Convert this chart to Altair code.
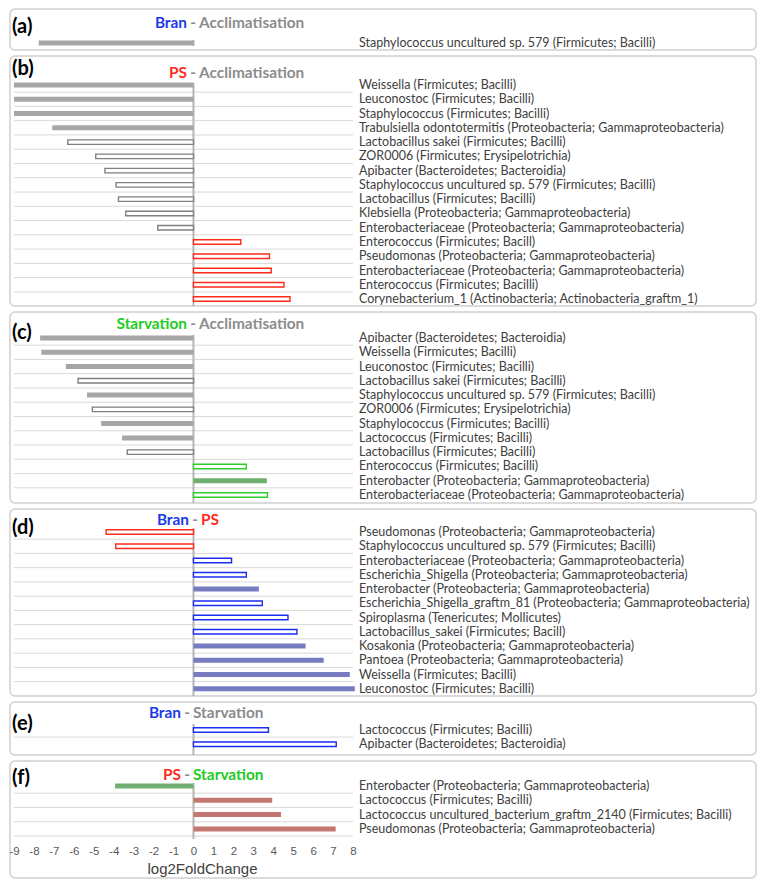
import altair as alt
import pandas as pd

# ---------------- data ----------------
X_TICKS = list(range(-9, 9))

a_labels = ["Staphylococcus uncultured sp. 579 (Firmicutes; Bacilli)"]
a_values = [-7.76]
a_filled = [True]

b_labels = [
    "Weissella (Firmicutes; Bacilli)",
    "Leuconostoc (Firmicutes; Bacilli)",
    "Staphylococcus (Firmicutes; Bacilli)",
    "Trabulsiella odontotermitis (Proteobacteria; Gammaproteobacteria)",
    "Lactobacillus sakei (Firmicutes; Bacilli)",
    "ZOR0006 (Firmicutes; Erysipelotrichia)",
    "Apibacter (Bacteroidetes; Bacteroidia)",
    "Staphylococcus uncultured sp. 579 (Firmicutes; Bacilli)",
    "Lactobacillus (Firmicutes; Bacilli)",
    "Klebsiella (Proteobacteria; Gammaproteobacteria)",
    "Enterobacteriaceae (Proteobacteria; Gammaproteobacteria)",
    "Enterococcus (Firmicutes; Bacill)",
    "Pseudomonas (Proteobacteria; Gammaproteobacteria)",
    "Enterobacteriaceae (Proteobacteria; Gammaproteobacteria)",
    "Enterococcus (Firmicutes; Bacilli)",
    "Corynebacterium_1 (Actinobacteria; Actinobacteria_graftm_1)",
]
b_values = [-9.0, -9.0, -9.0, -7.08, -6.3, -4.9, -4.44, -3.88, -3.76, -3.4, -1.79,
            2.37, 3.81, 3.9, 4.54, 4.84]
b_filled = [True, True, True, True, False, False, False, False, False, False, False,
            False, False, False, False, False]

c_labels = [
    "Apibacter (Bacteroidetes; Bacteroidia)",
    "Weissella (Firmicutes; Bacilli)",
    "Leuconostoc (Firmicutes; Bacilli)",
    "Lactobacillus sakei (Firmicutes; Bacilli)",
    "Staphylococcus uncultured sp. 579 (Firmicutes; Bacilli)",
    "ZOR0006 (Firmicutes; Erysipelotrichia)",
    "Staphylococcus (Firmicutes; Bacilli)",
    "Lactococcus (Firmicutes; Bacilli)",
    "Lactobacillus (Firmicutes; Bacilli)",
    "Enterococcus (Firmicutes; Bacilli)",
    "Enterobacter (Proteobacteria; Gammaproteobacteria)",
    "Enterobacteriaceae (Proteobacteria; Gammaproteobacteria)",
]
c_values = [-7.69, -7.63, -6.4, -5.79, -5.34, -5.07, -4.63, -3.58, -3.32, 2.65, 3.68, 3.71]
c_filled = [True, True, True, False, True, False, True, True, False, False, True, False]

d_labels = [
    "Pseudomonas (Proteobacteria; Gammaproteobacteria)",
    "Staphylococcus uncultured sp. 579 (Firmicutes; Bacilli)",
    "Enterobacteriaceae (Proteobacteria; Gammaproteobacteria)",
    "Escherichia_Shigella (Proteobacteria; Gammaproteobacteria)",
    "Enterobacter (Proteobacteria; Gammaproteobacteria)",
    "Escherichia_Shigella_graftm_81 (Proteobacteria; Gammaproteobacteria)",
    "Spiroplasma (Tenericutes; Mollicutes)",
    "Lactobacillus_sakei (Firmicutes; Bacill)",
    "Kosakonia (Proteobacteria; Gammaproteobacteria)",
    "Pantoea (Proteobacteria; Gammaproteobacteria)",
    "Weissella (Firmicutes; Bacilli)",
    "Leuconostoc (Firmicutes; Bacilli)",
]
d_values = [-4.38, -3.9, 1.91, 2.65, 3.28, 3.45, 4.74, 5.19, 5.62, 6.53, 7.84, 8.09]
d_filled = [False, False, False, False, True, False, False, False, True, True, True, True]

e_labels = [
    "Lactococcus (Firmicutes; Bacilli)",
    "Apibacter (Bacteroidetes; Bacteroidia)",
]
e_values = [3.76, 7.16]
e_filled = [False, False]

f_labels = [
    "Enterobacter (Proteobacteria; Gammaproteobacteria)",
    "Lactococcus (Firmicutes; Bacilli)",
    "Lactococcus  uncultured_bacterium_graftm_2140 (Firmicutes; Bacilli)",
    "Pseudomonas (Proteobacteria; Gammaproteobacteria)",
]
f_values = [-3.93, 3.95, 4.39, 7.13]
f_filled = [True, True, True, True]

# panel titles: (left word, right word)
titles = {
    "(a)": ("Bran", "Acclimatisation"),
    "(b)": ("PS", "Acclimatisation"),
    "(c)": ("Starvation", "Acclimatisation"),
    "(d)": ("Bran", "PS"),
    "(e)": ("Bran", "Starvation"),
    "(f)": ("PS", "Starvation"),
}

# ---------------- styling ----------------
BLUE_T = "#1b3be6"
RED_T = "#ff2a1a"
GREEN_T = "#22cc22"
GRAY_T = "#8c8c8c"

GRAY_FILL = "#a6a6a6"
GRAY_OPEN = "#7f7f7f"
RED_OPEN = "#ff2a1a"
GREEN_OPEN = "#2bcc2b"
BLUE_OPEN = "#1a2ef0"
GREEN_FILL = "#6fae6f"
BLUE_FILL = "#767bc2"
RED_FILL = "#c27870"

LABEL_FONT = "Lato"
W = 746
PX_PER_UNIT = 339 / 17
X_LEFT_PX = 4
x_min = X_TICKS[0] - X_LEFT_PX / PX_PER_UNIT
x_max = x_min + W / PX_PER_UNIT
xscale = alt.Scale(domain=[x_min, x_max], nice=False, zero=False, padding=0)
LABEL_X = 349


def panel(letter, title_colors, dash_x, labels, values, filled, colors, H, row0, step,
          title_y, letter_y, zero_px, show_axis=False):
    n = len(labels)
    d0 = -row0 / step
    d1 = d0 + H / step
    yscale = alt.Scale(domain=[d0, d1], reverse=True, nice=False, zero=False, padding=0)

    if show_axis:
        axis_y = 90
        xaxis = alt.Axis(
            values=X_TICKS,
            labelExpr="datum.value < 0 ? '-' + abs(datum.value) : '' + datum.value",
            ticks=False, tickSize=0, domain=False, grid=False,
            offset=axis_y - H, labelPadding=0, labelBaseline="middle",
            labelFlush=False, labelOverlap=False,
            labelFont="Liberation Sans", labelFontSize=11.5, labelColor="#595959",
            title="log2FoldChange", titleFont="Liberation Sans", titleFontSize=15,
            titleFontWeight="normal", titleColor="#404040",
            titleX=192, titleY=17, titleBaseline="middle", titleAlign="center",
        )
    else:
        xaxis = None

    df = pd.DataFrame({"row": list(range(n)), "label": labels, "value": values,
                       "filled": filled})
    key_color = dict(zip(["neg_f", "neg_o", "pos_f", "pos_o"], colors))
    df["col"] = [key_color[("neg" if v < 0 else "pos") + ("_f" if f else "_o")]
                 for v, f in zip(values, filled)]

    y = alt.Y("row:Q", scale=yscale, axis=None)
    xenc = alt.X("value:Q", scale=xscale, axis=xaxis)
    base = alt.Chart(df)

    bounds = [i + 0.5 for i in range(n - 1)]
    if show_axis:
        bounds.append(n - 0.5)
    grid = alt.Chart(pd.DataFrame({"b": bounds})).mark_rule(
        color="#d9d9d9", strokeWidth=1
    ).encode(
        x=alt.X(datum=X_TICKS[0], scale=xscale, axis=xaxis),
        x2=alt.X2(datum=X_TICKS[-1]),
        y=alt.Y("b:Q", scale=yscale, axis=None),
    )

    zero = alt.Chart(pd.DataFrame({"y0": [d0 + zero_px[0] / step],
                                   "y1": [d0 + zero_px[1] / step]})).mark_rule(
        color="#b5b5b5", strokeWidth=2
    ).encode(
        x=alt.X(datum=0, scale=xscale, axis=xaxis),
        y=alt.Y("y0:Q", scale=yscale, axis=None),
        y2="y1:Q",
    )

    filled_bars = base.transform_filter("datum.filled").mark_bar(
        orient="horizontal", size=5
    ).encode(
        x=xenc, x2=alt.X2(datum=0), y=y,
        fill=alt.Fill("col:N", scale=None),
    )
    open_bars = base.transform_filter("!datum.filled").mark_bar(
        orient="horizontal", size=4.5, fill="white", strokeWidth=1.4
    ).encode(
        x=xenc, x2=alt.X2(datum=0), y=y,
        stroke=alt.Stroke("col:N", scale=None),
    )

    text = base.mark_text(align="left", baseline="middle", font=LABEL_FONT,
                          fontSize=12.5, color="#404040").encode(
        x=alt.value(LABEL_X), y=y, text="label:N"
    )

    left_word, right_word = titles[letter]
    tdf = pd.DataFrame({
        "t": [left_word, "-", right_word],
        "c": [title_colors[0], GRAY_T, title_colors[1]],
    })
    title_layers = []
    for i, (align, xx) in enumerate([("right", dash_x - 6), ("center", dash_x),
                                     ("left", dash_x + 6)]):
        title_layers.append(
            alt.Chart(tdf.iloc[[i]]).mark_text(
                align=align, baseline="middle", font=LABEL_FONT,
                fontSize=15.4, fontWeight="bold"
            ).encode(text="t:N", color=alt.Color("c:N", scale=None),
                     x=alt.value(xx), y=alt.value(title_y))
        )

    letter_layer = alt.Chart(pd.DataFrame({"t": [letter]})).mark_text(
        align="left", baseline="middle", font=LABEL_FONT, fontSize=20,
        fontWeight="bold", color="#000000"
    ).encode(text="t:N", x=alt.value(2), y=alt.value(letter_y))

    layers = [grid, zero, filled_bars, open_bars, text] + title_layers + [letter_layer]
    return alt.layer(*layers).properties(width=W, height=H)


pa = panel("(a)", (BLUE_T, GRAY_T), 183, a_labels, a_values, a_filled,
           [GRAY_FILL, GRAY_OPEN, GRAY_FILL, GRAY_OPEN],
           H=41, row0=34, step=14.27, title_y=14, letter_y=17.5, zero_px=(31, 37))
pb = panel("(b)", (RED_T, GRAY_T), 183, b_labels, b_values, b_filled,
           [GRAY_FILL, GRAY_OPEN, RED_OPEN, RED_OPEN],
           H=250, row0=29, step=14.27, title_y=17, letter_y=13, zero_px=(27, 250))
pc = panel("(c)", (GREEN_T, GRAY_T), 183, c_labels, c_values, c_filled,
           [GRAY_FILL, GRAY_OPEN, GREEN_FILL, GREEN_OPEN],
           H=191, row0=26, step=14.27, title_y=12, letter_y=21, zero_px=(23, 191))
pd_ = panel("(d)", (BLUE_T, RED_T), 185, d_labels, d_values, d_filled,
            [RED_OPEN, RED_OPEN, BLUE_FILL, BLUE_OPEN],
            H=187, row0=23, step=14.25, title_y=11, letter_y=19, zero_px=(19, 187))
pe = panel("(e)", (BLUE_T, GRAY_T), 177, e_labels, e_values, e_filled,
           [BLUE_FILL, BLUE_OPEN, BLUE_FILL, BLUE_OPEN],
           H=53, row0=28, step=14.2, title_y=11, letter_y=22, zero_px=(22, 53))
pf = panel("(f)", (RED_T, GREEN_T), 177, f_labels, f_values, f_filled,
           [GREEN_FILL, GREEN_FILL, RED_FILL, RED_FILL],
           H=117, row0=25, step=14.3, title_y=14, letter_y=17, zero_px=(22, 78),
           show_axis=True)

chart = alt.vconcat(pa, pb, pc, pd_, pe, pf, spacing=6, bounds="flush").properties(
    padding=0
).configure_view(
    stroke="#cfcfcf", strokeWidth=1.5, cornerRadius=5
)

chart.save("out.html", embed_options={"renderer": "svg", "actions": False})
